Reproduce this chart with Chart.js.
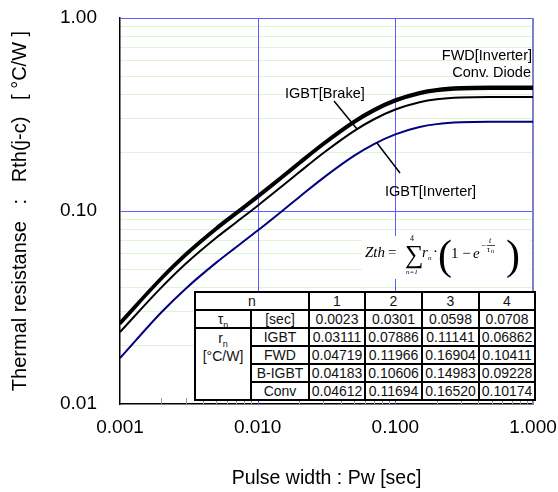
<!DOCTYPE html>
<html>
<head>
<meta charset="utf-8">
<script src="https://cdn.jsdelivr.net/npm/chart.js@4.4.1/dist/chart.umd.min.js"></script>
<style>
  body { margin: 0; background: #fff; }
  #wrap { position: relative; width: 558px; height: 492px; }
  #tbl { position: absolute; left: 194px; top: 291px; }
  #tbl table { border-collapse: collapse; table-layout: fixed; width: 340px; background: #fff;
    font: 14px "Liberation Sans", Arial, sans-serif; color: #111; }
  #tbl td { border: 2px solid #000; height: 16px; padding: 0; text-align: center; line-height: 16px; white-space: nowrap; }
  #tbl td.lab { vertical-align: top; line-height: 18px; }
  sub { font-size: 9px; line-height: 0; }
</style>
</head>
<body>
<div id="wrap">
  <canvas id="zth" width="558" height="492"></canvas>
  <div id="tbl">
    <table>
      <colgroup><col style="width:56px"><col style="width:58px"><col style="width:56px"><col style="width:57px"><col style="width:57px"><col style="width:56px"></colgroup>
      <tr><td colspan="2">n</td><td>1</td><td>2</td><td>3</td><td>4</td></tr>
      <tr><td>&tau;<sub>n</sub></td><td>[sec]</td><td>0.0023</td><td>0.0301</td><td>0.0598</td><td>0.0708</td></tr>
      <tr><td class="lab" rowspan="4">r<sub>n</sub><br>[°C/W]</td><td>IGBT</td><td>0.03111</td><td>0.07886</td><td>0.11141</td><td>0.06862</td></tr>
      <tr><td>FWD</td><td>0.04719</td><td>0.11966</td><td>0.16904</td><td>0.10411</td></tr>
      <tr><td>B-IGBT</td><td>0.04183</td><td>0.10606</td><td>0.14983</td><td>0.09228</td></tr>
      <tr><td>Conv</td><td>0.04612</td><td>0.11694</td><td>0.16520</td><td>0.10174</td></tr>
    </table>
  </div>
</div>
<script>
// pulse width [sec]
const pulseWidth = [0.001, 0.002, 0.003, 0.005, 0.007, 0.01, 0.015, 0.02, 0.03, 0.05, 0.07, 0.1, 0.15, 0.2, 0.3, 0.5, 1.0];

// Rth(j-c) [°C/W]
const fwdInv   = [0.0265, 0.0453, 0.0601, 0.0820, 0.0987, 0.1202, 0.1514, 0.1789, 0.2253, 0.2926, 0.3371, 0.3786, 0.4129, 0.4277, 0.4374, 0.4399, 0.44];
const convDiode = [0.0259, 0.0443, 0.0587, 0.0801, 0.0965, 0.1174, 0.1480, 0.1749, 0.2202, 0.2860, 0.3295, 0.3700, 0.4035, 0.4180, 0.4275, 0.4299, 0.43];
const igbtBrake = [0.0236, 0.0402, 0.0533, 0.0727, 0.0875, 0.1065, 0.1342, 0.1586, 0.1997, 0.2594, 0.2988, 0.3356, 0.3660, 0.3791, 0.3877, 0.3899, 0.39];
const igbtInv  = [0.0173, 0.0299, 0.0396, 0.0540, 0.0651, 0.0792, 0.0998, 0.1179, 0.1485, 0.1929, 0.2222, 0.2495, 0.2721, 0.2819, 0.2883, 0.2899, 0.29];

const xMajor = [0.001, 0.01, 0.1, 1];
const yMajor = [0.01, 0.1, 1];
const xLabels = ['0.001', '0.010', '0.100', '1.000'];
const yLabels = ['0.01', '0.10', '1.00'];

function logTicks(majors) {
  const out = [];
  for (let i = 0; i < majors.length; i++) {
    out.push(majors[i]);
    if (i < majors.length - 1) {
      for (let k = 2; k <= 9; k++) out.push(+(majors[i] * k).toPrecision(3));
    }
  }
  return out;
}
const isMajor = (list, v) => list.some(m => Math.abs(m - v) < m * 1e-6);

const pts = ys => pulseWidth.map((t, i) => ({ x: t, y: ys[i] }));
const FONT = '"Liberation Sans", Arial, sans-serif';
const GRID_BLUE = '#5c5cff';

// decade grid lines, drawn under the curves
const decadeGrid = {
  id: 'decadeGrid',
  beforeDatasetsDraw(chart) {
    const { ctx, chartArea: a, scales } = chart;
    ctx.save();
    ctx.lineWidth = 1;
    ctx.strokeStyle = GRID_BLUE;
    xMajor.slice(1, -1).forEach(v => {
      const px = Math.round(scales.x.getPixelForValue(v)) + 0.5;
      ctx.beginPath(); ctx.moveTo(px, a.top); ctx.lineTo(px, a.bottom); ctx.stroke();
    });
    yMajor.slice(1).forEach(v => {
      const py = Math.round(scales.y.getPixelForValue(v)) + 0.5;
      ctx.beginPath(); ctx.moveTo(a.left, py); ctx.lineTo(a.right, py); ctx.stroke();
    });
    ctx.strokeStyle = '#8080c8';
    ctx.lineWidth = 2;
    const rx = Math.round(scales.x.getPixelForValue(1));
    ctx.beginPath(); ctx.moveTo(rx, a.top); ctx.lineTo(rx, a.bottom); ctx.stroke();
    ctx.restore();
  }
};

const extras = {
  id: 'extras',
  afterDatasetsDraw(chart) {
    const { ctx, chartArea, scales } = chart;
    ctx.save();
    // inner minor ticks on the x axis
    ctx.strokeStyle = '#999';
    ctx.lineWidth = 1;
    logTicks(xMajor).forEach(v => {
      if (isMajor(xMajor, v)) return;
      const px = Math.round(scales.x.getPixelForValue(v)) + 0.5;
      ctx.beginPath();
      ctx.moveTo(px, chartArea.bottom);
      ctx.lineTo(px, chartArea.bottom - 6);
      ctx.stroke();
    });

    // labels and leaders
    ctx.fillStyle = '#000';
    ctx.font = '14.5px ' + FONT;
    ctx.textBaseline = 'alphabetic';
    ctx.textAlign = 'left';
    ctx.fillText('IGBT[Brake]', 285, 98);
    ctx.fillText('IGBT[Inverter]', 385, 196);
    ctx.textAlign = 'right';
    ctx.fillText('FWD[Inverter]', 532, 60);
    ctx.fillText('Conv. Diode', 531, 77);
    ctx.strokeStyle = '#000';
    ctx.lineWidth = 1.5;
    ctx.beginPath();
    ctx.moveTo(334, 101); ctx.lineTo(357, 129);
    ctx.moveTo(377, 143); ctx.lineTo(400, 173);
    ctx.stroke();

    // formula
    ctx.fillStyle = '#fff';
    ctx.fillRect(362, 236, 168, 43);
    ctx.fillStyle = '#000';
    ctx.textAlign = 'left';
    const serif = '"Liberation Serif", "Times New Roman", serif';
    ctx.font = 'italic 15px ' + serif;
    ctx.fillText('Zth', 365, 257);
    ctx.font = '15px ' + serif;
    ctx.fillText('=', 388, 257);
    ctx.font = '26px ' + serif;
    ctx.fillText('\u2211', 405, 263);
    ctx.font = '8px ' + serif;
    ctx.fillText('4', 410, 241);
    ctx.font = 'italic 7px ' + serif;
    ctx.fillText('n=1', 406, 274);
    ctx.font = 'italic 15px ' + serif;
    ctx.fillText('r', 422, 257);
    ctx.font = 'italic 7px ' + serif;
    ctx.fillText('n', 428, 260);
    ctx.font = '15px ' + serif;
    ctx.fillText('\u00b7', 433, 256);
    ctx.font = '42px ' + serif;
    ctx.fillText('(', 438, 269);
    ctx.fillText(')', 506, 269);
    ctx.font = '15px ' + serif;
    ctx.fillText('1 \u2212', 451, 258);
    ctx.font = 'italic 15px ' + serif;
    ctx.fillText('e', 473, 258);
    ctx.font = '9px ' + serif;
    ctx.fillText('\u2212', 481, 248);
    ctx.font = 'italic 8px ' + serif;
    ctx.fillText('t', 489, 243);
    ctx.fillText('\u03c4', 487, 252);
    ctx.font = 'italic 6px ' + serif;
    ctx.fillText('n', 491, 253);
    ctx.lineWidth = 0.7;
    ctx.beginPath();
    ctx.moveTo(487, 245.5); ctx.lineTo(495, 245.5);
    ctx.stroke();
    ctx.restore();
  }
};

new Chart(document.getElementById('zth'), {
  type: 'scatter',
  data: {
    datasets: [
      { label: 'FWD[Inverter]', data: pts(fwdInv), borderColor: '#000', borderWidth: 2.5 },
      { label: 'Conv. Diode', data: pts(convDiode), borderColor: '#000', borderWidth: 2.5 },
      { label: 'IGBT[Brake]', data: pts(igbtBrake), borderColor: '#000', borderWidth: 2 },
      { label: 'IGBT[Inverter]', data: pts(igbtInv), borderColor: '#000080', borderWidth: 2 }
    ].map(d => Object.assign(d, { showLine: true, pointRadius: 0, cubicInterpolationMode: 'monotone' }))
  },
  options: {
    responsive: false,
    animation: false,
    layout: { padding: { left: 0, right: 25, top: 18, bottom: 0 } },
    plugins: { legend: { display: false }, tooltip: { enabled: false } },
    scales: {
      x: {
        type: 'logarithmic',
        min: 0.001, max: 1,
        afterBuildTicks: s => { s.ticks = logTicks(xMajor).map(v => ({ value: v })); },
        afterFit: s => { s.height = 88; s.paddingLeft = 0; s.paddingRight = 0; },
        ticks: {
          autoSkip: false, maxRotation: 0, padding: 12, color: '#000',
          font: { family: FONT, size: 19 },
          callback: v => { const i = xMajor.findIndex(m => Math.abs(m - v) < m * 1e-6); return i >= 0 ? xLabels[i] : ''; }
        },
        grid: { drawTicks: false, drawOnChartArea: false },
        border: { color: '#000', width: 1.5 },
        title: { display: true, text: 'Pulse width : Pw [sec]', color: '#000', font: { family: FONT, size: 19.5 }, padding: { top: 0, bottom: 2 } }
      },
      y: {
        type: 'logarithmic',
        min: 0.01, max: 1,
        afterBuildTicks: s => { s.ticks = logTicks(yMajor).map(v => ({ value: v })); },
        afterFit: s => { s.width = 120; s.paddingTop = 0; s.paddingBottom = 0; },
        ticks: {
          autoSkip: false, padding: 23, color: '#000',
          font: { family: FONT, size: 19 },
          callback: v => { const i = yMajor.findIndex(m => Math.abs(m - v) < m * 1e-6); return i >= 0 ? yLabels[i] : ''; }
        },
        grid: {
          drawTicks: false,
          color: c => (isMajor(yMajor, c.tick.value) ? 'rgba(0,0,0,0)' : '#dcf3d4'),
          lineWidth: 1
        },
        border: { color: '#000', width: 1.5 },
        title: { display: true, text: 'Thermal resistanse   :   Rth(j-c)   [ °C/W ]', color: '#000', font: { family: FONT, size: 20 }, padding: { top: 8, bottom: 0 } }
      }
    }
  },
  plugins: [decadeGrid, extras]
});
</script>
</body>
</html>
